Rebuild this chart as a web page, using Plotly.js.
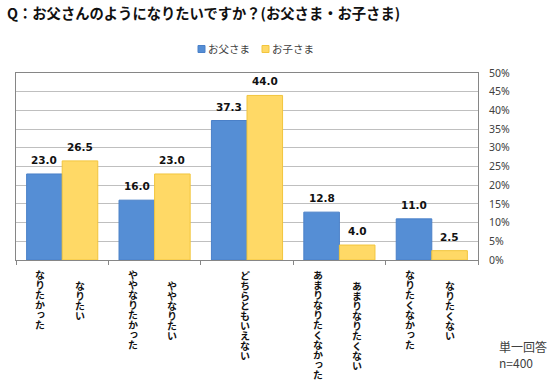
<!DOCTYPE html>
<html><head><meta charset="utf-8">
<script src="https://cdn.plot.ly/plotly-3.0.1.min.js"></script>
<style>html,body{margin:0;padding:0;background:#fff}</style>
</head><body><div id="chart" style="width:550px;height:390px"></div>
<script>
const titleText = 'Q：お父さんのようになりたいですか？(お父さま・お子さま)';
const categories = ['なりたい', 'ややなりたい', 'どちらともいえない', 'あまりなりたくない', 'なりたくない'];
const fatherLabels = ['なりたかった', 'ややなりたかった', 'どちらともいえない', 'あまりなりたくなかった', 'なりたくなかった'];
const childLabels = ['なりたい', 'ややなりたい', '', 'あまりなりたくない', 'なりたくない'];
const seriesNames = ['お父さま', 'お子さま'];
const fatherValues = [23.0, 16.0, 37.3, 12.8, 11.0];
const childValues = [26.5, 23.0, 44.0, 4.0, 2.5];
const yTickValues = [0, 5, 10, 15, 20, 25, 30, 35, 40, 45, 50];
const yTickLabels = ['0%', '5%', '10%', '15%', '20%', '25%', '30%', '35%', '40%', '45%', '50%'];
const noteLines = ['単一回答', 'n=400'];

const M = {l: 16, r: 72, t: 73, b: 130};
const W = 550, H = 390;
const plotH = H - M.t - M.b;
const plotW = W - M.l - M.r;
const bargap = 0.23;
const half = (1 - bargap) / 4;
const jp = '"Noto Sans CJK JP", "Noto Sans", sans-serif';

const traces = [
  {type: 'bar', name: seriesNames[0], x: categories, y: fatherValues,
   marker: {color: '#558ED5', line: {color: '#4A80C8', width: 1}}, hoverinfo: 'none'},
  {type: 'bar', name: seriesNames[1], x: categories, y: childValues,
   marker: {color: '#FFD966', line: {color: '#F2C53D', width: 1}}, hoverinfo: 'none'}
];

const annotations = [];
[fatherValues, childValues].forEach((vals, s) => {
  vals.forEach((v, i) => {
    annotations.push({x: i + (s === 0 ? -half : half), xref: 'x', y: v, yref: 'y',
      text: v.toFixed(1), showarrow: false, yanchor: 'middle', yshift: 14,
      font: {family: '"DejaVu Sans", Verdana, sans-serif', size: 10.5, color: '#111', weight: 'bold'}});
  });
});
// vertical category labels: drawn as annotations, then set to vertical writing mode
const vertical = [];
function vLabel(str, xPos, xshift, topPx) {
  vertical.push({index: annotations.length, topPx: topPx});
  annotations.push({x: xPos, xref: 'x', xshift: xshift,
    y: -topPx / plotH, yref: 'paper', yanchor: 'top',
    text: str, showarrow: false,
    font: {family: jp, size: 10, color: '#111', weight: 'bold'}});
}
categories.forEach((c, i) => {
  if (childLabels[i]) {
    vLabel(fatherLabels[i], i - half, -4, 9);
    vLabel(childLabels[i], i + half, 0, 20);
  } else {
    vLabel(fatherLabels[i], i, -2, 9);
  }
});
annotations.push({x: (497 - M.l) / plotW, xref: 'paper', xanchor: 'left',
  y: -(354.5 - (H - M.b)) / plotH, yref: 'paper', yanchor: 'middle', align: 'left',
  text: noteLines.join('<br>'), showarrow: false,
  font: {family: jp, size: 12, color: '#404040'}});

const layout = {
  width: W, height: H, margin: M,
  paper_bgcolor: '#fff', plot_bgcolor: '#fff',
  title: {text: titleText, x: 7 / W, xanchor: 'left', xref: 'container',
    y: 1 - 13.5 / H, yanchor: 'middle', yref: 'container',
    font: {family: jp, size: 14.3, color: '#111', weight: 'bold'}},
  barmode: 'group', bargap: bargap, bargroupgap: 0,
  showlegend: true,
  legend: {orientation: 'h', x: (256 - M.l) / plotW, xanchor: 'center',
    y: 1 + (M.t - 49) / plotH, yanchor: 'middle',
    font: {family: jp, size: 10.5, color: '#404040'}, tracegroupgap: 0},
  xaxis: {type: 'category', range: [-0.5, categories.length - 0.5], autorange: false,
    showticklabels: false, showline: true, linecolor: '#868686',
    linewidth: 1, mirror: true, ticks: 'outside', tickson: 'boundaries', ticklen: 4,
    tickcolor: '#868686', showgrid: false, zeroline: false, fixedrange: true},
  yaxis: {range: [0, 50], autorange: false, side: 'right', tickmode: 'array', tickvals: yTickValues, ticktext: yTickLabels,
    showgrid: true, gridcolor: '#BFBFBF', gridwidth: 1, zeroline: false,
    showline: true, linecolor: '#868686', mirror: true, ticks: '', ticklabelstandoff: 8,
    tickfont: {family: '"Noto Sans", sans-serif', size: 10.5, color: '#404040'}, fixedrange: true},
  annotations: annotations
};

Plotly.newPlot('chart', traces, layout, {displayModeBar: false, staticPlot: true}).then(gd => {
  const root = gd.getBoundingClientRect();
  const groups = gd.querySelectorAll('.annotation');
  vertical.forEach(v => {
    const g = gd.querySelector('.annotation[data-index="' + v.index + '"]') || groups[v.index];
    if (!g) return;
    const t = g.querySelector('text.annotation-text');
    if (!t) return;
    const bb = t.getBBox();
    const cx = bb.x + bb.width / 2;
    t.setAttribute('text-anchor', 'start');
    t.style.textAnchor = 'start';
    t.style.writingMode = 'vertical-rl';
    t.setAttribute('x', cx);
    t.setAttribute('y', bb.y);
    const r = t.getBoundingClientRect();
    const wantTop = root.top + M.t + plotH + v.topPx + 1;
    t.setAttribute('y', bb.y + (wantTop - r.top));
  });
  const items = gd.querySelectorAll('.legend .traces');
  items.forEach((g, k) => {
    const p = g.querySelector('.legendpoints path');
    const t = g.querySelector('text.legendtext');
    if (!p || !t) return;
    p.setAttribute('d', 'M3.5,3.5H-3.5V-3.5H3.5Z');
    const m = /translate\(\s*([-\d.e]+)[ ,]+([-\d.e]+)/.exec(g.getAttribute('transform') || '');
    const a = m ? parseFloat(m[1]) : 0, b = m ? parseFloat(m[2]) : 0;
    const pr = p.getBoundingClientRect();
    const dx = (root.left + 198 + 64 * k) - pr.left;
    g.setAttribute('transform', 'translate(' + (a + dx) + ',' + b + ')');
    const pr2 = p.getBoundingClientRect();
    const tr = t.getBoundingClientRect();
    t.setAttribute('x', parseFloat(t.getAttribute('x') || 0) + (pr2.right + 3 - tr.left));
  });
});
</script></body></html>
